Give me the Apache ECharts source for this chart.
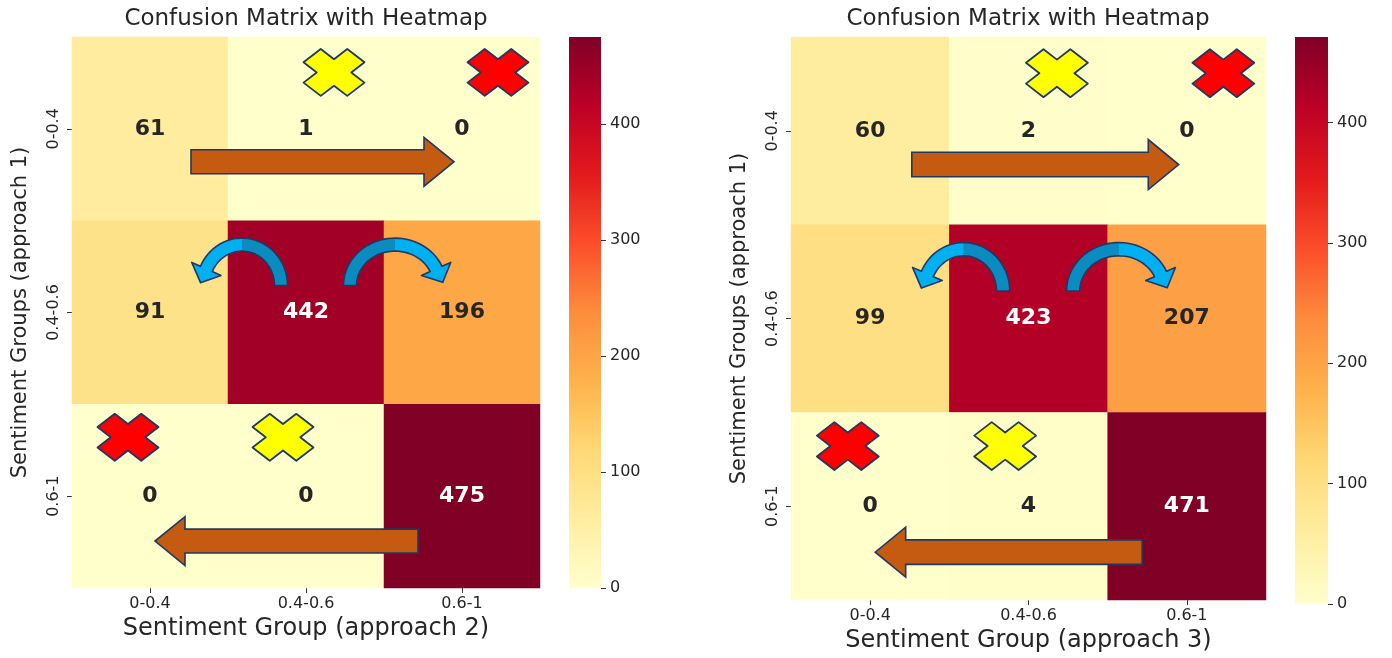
<!DOCTYPE html>
<html><head><meta charset="utf-8">
<script src="https://cdn.jsdelivr.net/npm/echarts@6/dist/echarts.min.js"></script>
<style>html,body{margin:0;padding:0;background:#fff}#c{width:1392px;height:658px}</style>
</head><body><div id="c"></div>
<script>
// ---------------- data ----------------
const titleText = 'Confusion Matrix with Heatmap';
const xCategories = ['0-0.4', '0.4-0.6', '0.6-1'];
const yCategories = ['0-0.4', '0.4-0.6', '0.6-1'];
const xAxisNames = ['Sentiment Group (approach 2)', 'Sentiment Group (approach 3)'];
const yAxisName = 'Sentiment Groups (approach 1)';
// rows: approach 1 group (top to bottom), columns: approach 2 / 3 group
const matrixApproach2 = [[61, 1, 0], [91, 442, 196], [0, 0, 475]];
const matrixApproach3 = [[60, 2, 0], [99, 423, 207], [0, 4, 471]];
const colorbarTicks = [0, 100, 200, 300, 400];
const ylOrRd = ['#ffffcc', '#ffeda0', '#fed976', '#feb24c', '#fd8d3c', '#fc4e2a', '#e31a1c', '#bd0026', '#800026'];

// ---------------- layout ----------------
const FONT = 'DejaVu Sans';
const TXT = '#262626';
const panels = [
  { matrix: matrixApproach2, xName: xAxisNames[0], titleX: 306,
    grid: { left: 72, top: 37, width: 468, height: 551 },
    cbar: { left: 569, top: 37, width: 32, height: 551 } },
  { matrix: matrixApproach3, xName: xAxisNames[1], titleX: 1028,
    grid: { left: 791, top: 37, width: 475, height: 567 },
    cbar: { left: 1295, top: 37, width: 33, height: 567 } }
];

const chart = echarts.init(document.getElementById('c'), null, { renderer: 'canvas' });
const option = {
  animation: false,
  backgroundColor: '#ffffff',
  textStyle: { fontFamily: FONT },
  title: [], grid: [], xAxis: [], yAxis: [], series: [], visualMap: []
};

panels.forEach((p, i) => {
  const maxVal = Math.max(...p.matrix.flat());
  const g = 2 * i, cb = 2 * i + 1;
  option.title.push({
    text: titleText, left: p.titleX, top: 8, textAlign: 'center', padding: 0,
    textStyle: { fontFamily: FONT, fontSize: 23, fontWeight: 'normal', color: TXT }
  });
  option.grid.push(Object.assign({ containLabel: false }, p.grid));
  option.grid.push(Object.assign({ containLabel: false }, p.cbar));
  option.xAxis.push({
    type: 'category', gridIndex: g, data: xCategories,
    axisLine: { show: false },
    axisTick: { show: true, alignWithLabel: true, length: 5, lineStyle: { color: '#333' } },
    axisLabel: { fontSize: 16, color: TXT, margin: 8, fontFamily: FONT },
    splitLine: { show: false }, splitArea: { show: false },
    name: p.xName, nameLocation: 'middle', nameGap: 27,
    nameTextStyle: { fontSize: 24, color: TXT, fontFamily: FONT }
  });
  option.xAxis.push({ type: 'category', gridIndex: cb, data: [''], show: false });
  option.yAxis.push({
    type: 'category', gridIndex: g, data: yCategories, inverse: true,
    axisLine: { show: false },
    axisTick: { show: true, alignWithLabel: true, length: 5, lineStyle: { color: '#333' } },
    axisLabel: { fontSize: 16, color: TXT, margin: 10, rotate: 90, fontFamily: FONT },
    splitLine: { show: false }, splitArea: { show: false },
    name: yAxisName, nameLocation: 'middle', nameGap: 41, nameRotate: 90,
    nameTextStyle: { fontSize: 21, color: TXT, fontFamily: FONT }
  });
  option.yAxis.push({
    type: 'value', gridIndex: cb, position: 'right', min: 0, max: maxVal,
    axisLine: { show: false },
    axisTick: { show: true, length: 5, customValues: colorbarTicks, lineStyle: { color: '#333' } },
    axisLabel: { fontSize: 16, color: TXT, margin: 9, customValues: colorbarTicks, fontFamily: FONT },
    splitLine: { show: false }
  });
  const data = [];
  p.matrix.forEach((row, r) => row.forEach((v, c) => {
    data.push({ value: [c, r, v],
      label: { color: v / maxVal > 0.7 ? '#ffffff' : TXT } });
  }));
  option.series.push({
    type: 'heatmap', xAxisIndex: g, yAxisIndex: g, data: data,
    itemStyle: { borderWidth: 0 },
    label: { show: true, fontSize: 22, fontWeight: 'bold', fontFamily: FONT,
             formatter: (prm) => String(prm.value[2]) },
    emphasis: { disabled: true }
  });
  option.series.push({
    type: 'bar', xAxisIndex: cb, yAxisIndex: cb, data: [maxVal], barWidth: '100%',
    itemStyle: { color: { type: 'linear', x: 0, y: 0, x2: 0, y2: 1,
      colorStops: ylOrRd.slice().reverse().map((col, k) => ({ offset: k / (ylOrRd.length - 1), color: col })) } },
    emphasis: { disabled: true }, silent: true
  });
  option.visualMap.push({
    type: 'continuous', show: false, min: 0, max: maxVal, seriesIndex: 2 * i,
    inRange: { color: ylOrRd }
  });
});

chart.setOption(option);

// ---------------- annotations (placed from the axes' own pixel scale) ----------------
const STROKE = '#203864';
const crosses = [
  { col: 1, row: 0, dx: 28, dy: -56.5, color: '#ffff00' },
  { col: 2, row: 0, dx: 36, dy: -56.5, color: '#ff0000' },
  { col: 0, row: 2, dx: -22, dy: -59, color: '#ff0000' },
  { col: 1, row: 2, dx: -23, dy: -59, color: '#ffff00' }
];
const straightArrows = [
  { row: 0, fromCol: 0, fromDx: 41, toCol: 2, toDx: -8, dy: 33 },
  { row: 2, fromCol: 2, fromDx: -44, toCol: 0, toDx: 5, dy: 45 }
];
const curvedArrows = [
  { cx: -64, cy: -27, rx: 39, ry: 41, dir: -1 },
  { cx: 89, cy: -27, rx: 45, ry: 41, dir: 1 }
];

const graphics = [];
panels.forEach((p, i) => {
  const g = 2 * i;
  const c00 = chart.convertToPixel({ gridIndex: g }, [0, 0]);
  const c11 = chart.convertToPixel({ gridIndex: g }, [1, 1]);
  const w = c11[0] - c00[0], h = c11[1] - c00[1];
  const sx = w / 156, sy = h / 184;
  const cell = (c, r) => [c00[0] + c * w, c00[1] + r * h];

  // straight block arrows
  straightArrows.forEach(a => {
    const y = cell(0, a.row)[1] + a.dy * sy;
    const x0 = cell(a.fromCol, a.row)[0] + a.fromDx * sx;
    const x1 = cell(a.toCol, a.row)[0] + a.toDx * sx;
    const d = Math.sign(x1 - x0);
    const sh = 12 * sy, hh = 24.5 * sy, hl = 30 * sx;
    const xh = x1 - d * hl;
    graphics.push({ type: 'polygon', z: 100,
      shape: { points: [[x0, y - sh], [xh, y - sh], [xh, y - hh], [x1, y], [xh, y + hh], [xh, y + sh], [x0, y + sh]] },
      style: { fill: '#c55a11', stroke: STROKE, lineWidth: 1.6 } });
  });

  // crosses (wider than tall, as in the reference)
  crosses.forEach(cr => {
    const ctr = cell(cr.col, cr.row);
    const X = ctr[0] + cr.dx * sx, Y = ctr[1] + cr.dy * sy;
    const ex = 30.5 * sx, ey = 23.5 * sy;
    const E = 1, b = 0.40, L = E * Math.SQRT2 - b, q = Math.SQRT1_2;
    const pts = [
      [0, -b * Math.SQRT2], [(L - b) * q, -(L + b) * q], [(L + b) * q, -(L - b) * q],
      [b * Math.SQRT2, 0], [(L + b) * q, (L - b) * q], [(L - b) * q, (L + b) * q],
      [0, b * Math.SQRT2], [-(L - b) * q, (L + b) * q], [-(L + b) * q, (L - b) * q],
      [-b * Math.SQRT2, 0], [-(L + b) * q, -(L - b) * q], [-(L - b) * q, -(L + b) * q]
    ].map(pt => [X + pt[0] * ex, Y + pt[1] * ey]);
    graphics.push({ type: 'polygon', z: 100, shape: { points: pts },
      style: { fill: cr.color, stroke: STROKE, lineWidth: 1.8, lineJoin: 'round' } });
  });

  // curved arrows
  const mid = cell(1, 1);
  curvedArrows.forEach(a => {
    const cx = mid[0] + a.cx * sx, cy = mid[1] + a.cy * sy;
    const rx = a.rx * sx, ry = a.ry * sy, t = 13 * sx;
    const d = a.dir;
    const N = 36, thE = 156 * Math.PI / 180;
    const pt = (r1, r2, th) => [cx - d * r1 * Math.cos(th), cy - r2 * Math.sin(th)];
    const arc = (r1, r2, th0, th1) => {
      const out = [];
      for (let k = 0; k <= N; k++) out.push(pt(r1, r2, th0 + (th1 - th0) * k / N));
      return out;
    };
    const roX = rx + t / 2, roY = ry + t / 2, riX = rx - t / 2, riY = ry - t / 2;
    const P = pt(rx, ry, thE), Po = pt(roX, roY, thE), Pi = pt(riX, riY, thE);
    let nx = Po[0] - Pi[0], ny = Po[1] - Pi[1];
    const nl = Math.hypot(nx, ny); nx /= nl; ny /= nl;
    let tx = d * rx * Math.sin(thE), ty = -ry * Math.cos(thE);
    const tl = Math.hypot(tx, ty); tx /= tl; ty /= tl;
    const hw = 16 * sx, hl = 15 * sy;
    const head = [[P[0] + nx * hw, P[1] + ny * hw], [P[0] + tx * hl, P[1] + ty * hl], [P[0] - nx * hw, P[1] - ny * hw]];
    const full = [].concat(arc(roX, roY, 0, thE), head, arc(riX, riY, thE, 0));
    const backHalf = [].concat(arc(roX, roY, 0, Math.PI / 2), arc(riX, riY, Math.PI / 2, 0));
    graphics.push({ type: 'polygon', z: 100, shape: { points: full }, style: { fill: '#00b0f0', stroke: null } });
    graphics.push({ type: 'polygon', z: 101, shape: { points: backHalf }, style: { fill: '#0a8cc0', stroke: null } });
    graphics.push({ type: 'polygon', z: 102, shape: { points: full },
      style: { fill: null, stroke: STROKE, lineWidth: 1.6, lineJoin: 'round' } });
  });
});
chart.setOption({ graphic: graphics });
</script>
</body></html>
